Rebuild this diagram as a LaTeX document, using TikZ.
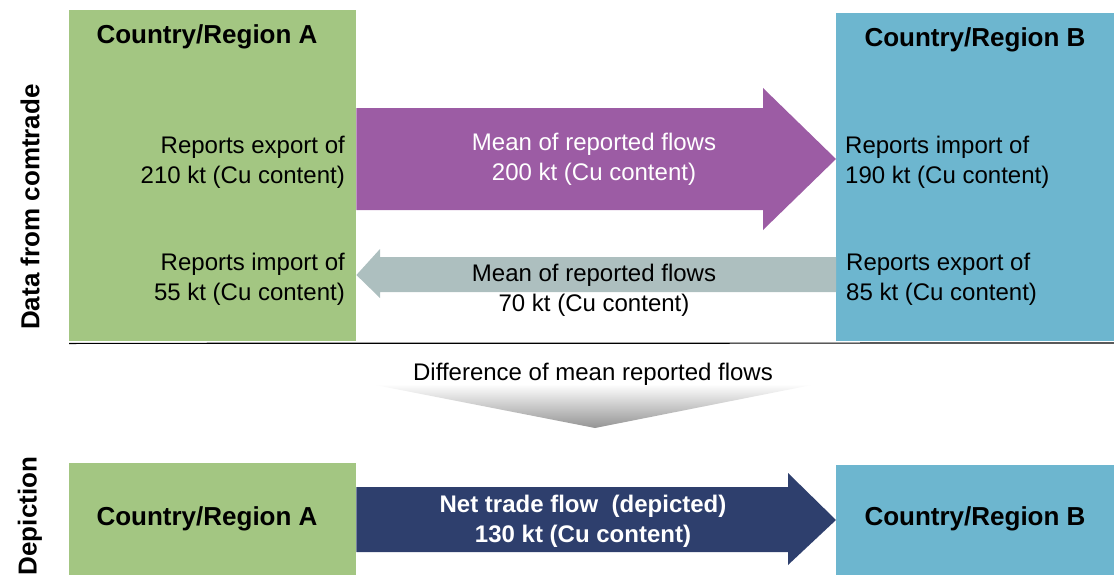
\documentclass[tikz,border=0pt]{standalone}
\usepackage{fontspec}
\setmainfont{Liberation Sans}
\usepackage{tikz}
\usetikzlibrary{calc}

\definecolor{regA}{HTML}{A3C682}
\definecolor{regB}{HTML}{6DB6CF}
\definecolor{flowAB}{HTML}{9C5CA4}
\definecolor{flowBA}{HTML}{ADBFBF}
\definecolor{netflow}{HTML}{2E3F6D}

\tikzset{
  region/.style={inner sep=0pt, anchor=north west},
  txt/.style={inner sep=0pt, font=\fontsize{24}{30}\selectfont},
  head/.style={inner sep=0pt, font=\fontsize{26}{31}\selectfont\bfseries},
}

\begin{document}
\begin{tikzpicture}[x=1pt,y=-1pt]
  \useasboundingbox (0,0) rectangle (1114,578);
  % data from comtrade
  \node (a) at (69,10) [region, fill=regA, minimum width=287pt, minimum height=331pt] {};
  \node (b) at (836,13) [region, fill=regB, minimum width=278pt, minimum height=328pt] {};
  \node (ta) at (207,37) [head] {Country/Region A};
  \node (tb) at (975,40) [head] {Country/Region B};
  \draw[line width=1.2pt] (a.south west) ++(0,2) coordinate (l) -- (1114,343);
  % arrows
  \fill[flowAB] (a.east |- 0,108) -- (763,108) -- (763,88) -- (b.west |- 0,159)
    -- (763,230) -- (763,210) -- (a.east |- 0,210) -- cycle;
  \fill[flowBA] (b.west |- 0,257) -- (380,257) -- (380,249) -- (a.east |- 0,275)
    -- (380,298) -- (380,292) -- (b.west |- 0,292) -- cycle;
  \node (ea) at (345,162) [txt, anchor=east, align=right] {Reports export of\\210 kt (Cu content)};
  \node (ia) at (345,279) [txt, anchor=east, align=right] {Reports import of\\55 kt (Cu content)};
  \node (ib) at (845,162) [txt, anchor=west, align=left] {Reports import of\\190 kt (Cu content)};
  \node (eb) at (846,279) [txt, anchor=west, align=left] {Reports export of\\85 kt (Cu content)};
  \node (mab) at (594,159) [txt, align=center, text=white] {Mean of reported flows\\200 kt (Cu content)};
  \node (mba) at (594,290) [txt, align=center] {Mean of reported flows\\70 kt (Cu content)};
  % difference
  \shade[top color=white, bottom color=black!42] (370,384) -- (817,384) -- (595,428) -- cycle;
  \node (diff) at (593,374) [txt] {Difference of mean reported flows};
  % depiction
  \node (na) at (69,463) [region, fill=regA, minimum width=287pt, minimum height=112pt] {};
  \node (nb) at (836,465) [region, fill=regB, minimum width=278pt, minimum height=110pt] {};
  \node (tna) at (207,519) [head] {Country/Region A};
  \node (tnb) at (975,519) [head] {Country/Region B};
  \fill[netflow] (na.east |- 0,487) -- (788,487) -- (788,473) -- (nb.west |- 0,520)
    -- (788,565) -- (788,552) -- (na.east |- 0,552) -- cycle;
  \node (net) at (583,521) [txt, align=center, text=white, font=\fontsize{24}{30}\selectfont\bfseries]
    {Net trade flow~~(depicted)\\130 kt (Cu content)};
  % side labels
  \node (sd) at (30,207) [head, rotate=90] {Data from comtrade};
  \node (sp) at (30,516) [head, rotate=90] {Depiction};
\end{tikzpicture}
\end{document}
